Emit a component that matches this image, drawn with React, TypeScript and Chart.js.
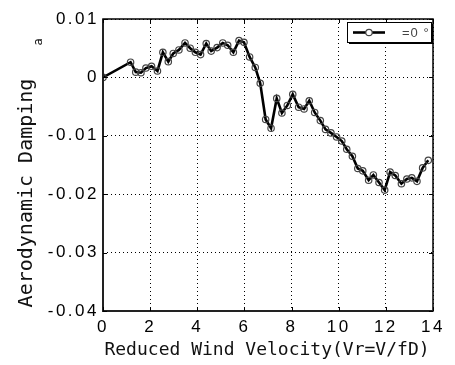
import React, { useEffect, useRef } from "react";
import { Chart, registerables } from "chart.js";

Chart.register(...registerables);

const vr = [0, 1.17, 1.39, 1.61, 1.82, 2.06, 2.31, 2.54, 2.77, 2.98, 3.22, 3.48, 3.70, 3.92, 4.14, 4.38, 4.59, 4.84, 5.08, 5.29, 5.53, 5.77, 5.98, 6.22, 6.46, 6.67, 6.90, 7.13, 7.37, 7.59, 7.82, 8.05, 8.30, 8.53, 8.75, 8.98, 9.22, 9.44, 9.67, 9.91, 10.13, 10.34, 10.58, 10.81, 11.02, 11.27, 11.47, 11.71, 11.95, 12.18, 12.40, 12.66, 12.89, 13.10, 13.32, 13.56, 13.80];
const damping = [0, 0.0026, 0.0009, 0.0008, 0.0016, 0.0019, 0.0011, 0.0043, 0.0027, 0.0041, 0.0047, 0.0059, 0.0050, 0.0043, 0.0039, 0.0058, 0.0045, 0.0051, 0.0059, 0.0055, 0.0043, 0.0063, 0.0060, 0.0035, 0.0017, -0.0010, -0.0072, -0.0087, -0.0036, -0.0061, -0.0048, -0.0029, -0.0051, -0.0054, -0.0040, -0.0060, -0.0074, -0.0089, -0.0095, -0.0102, -0.0109, -0.0123, -0.0135, -0.0156, -0.0160, -0.0176, -0.0167, -0.0180, -0.0193, -0.0162, -0.0168, -0.0182, -0.0174, -0.0172, -0.0178, -0.0155, -0.0142];
const seriesLabel = "=0 °";
const xTitle = "Reduced Wind Velocity(Vr=V/fD)";
const yTitle = "Aerodynamic Damping";
const ySub = "a";

const TICK_SPACING = "2.5px";

const decorPlugin = {
  id: "decor",
  beforeLayout(chart: any) {
    chart.ctx.letterSpacing = TICK_SPACING;
  },
  beforeDraw(chart: any) {
    const ctx = chart.ctx;
    ctx.letterSpacing = TICK_SPACING;
    ctx.save();
    ctx.fillStyle = "#fff";
    ctx.fillRect(0, 0, chart.width, chart.height);
    ctx.restore();
  },
  afterDraw(chart: any) {
    const ctx = chart.ctx;
    const { left, right, top, bottom } = chart.chartArea;
    const xs = chart.scales.x;
    const ys = chart.scales.y;
    ctx.save();
    ctx.letterSpacing = "0px";
    // frame
    ctx.strokeStyle = "#000";
    ctx.lineWidth = 1.5;
    ctx.strokeRect(left, top, right - left, bottom - top);
    ctx.lineWidth = 2;
    ctx.strokeStyle = "#222";
    ctx.beginPath();
    ctx.moveTo(left, top);
    ctx.lineTo(left, bottom);
    ctx.lineTo(right, bottom);
    ctx.stroke();
    // inward ticks
    ctx.lineWidth = 1;
    ctx.strokeStyle = "#000";
    ctx.beginPath();
    xs.ticks.forEach((t: any) => {
      const px = Math.round(xs.getPixelForValue(t.value)) + 0.5;
      ctx.moveTo(px, bottom);
      ctx.lineTo(px, bottom - 4);
      ctx.moveTo(px, top);
      ctx.lineTo(px, top + 4);
    });
    ys.ticks.forEach((t: any) => {
      const py = Math.round(ys.getPixelForValue(t.value)) + 0.5;
      ctx.moveTo(left, py);
      ctx.lineTo(left + 4, py);
      ctx.moveTo(right, py);
      ctx.lineTo(right - 4, py);
    });
    ctx.stroke();

    // axis titles
    ctx.fillStyle = "#111";
    ctx.font = "18px 'DejaVu Sans Mono'";
    ctx.textAlign = "center";
    ctx.textBaseline = "middle";
    ctx.fillText(xTitle, (left + right) / 2 - 1, 350);
    ctx.save();
    ctx.translate(27, 193);
    ctx.rotate(-Math.PI / 2);
    ctx.font = "20px 'DejaVu Sans Mono'";
    ctx.fillText(yTitle, 0, 0);
    ctx.restore();
    ctx.save();
    ctx.translate(39, 42);
    ctx.rotate(-Math.PI / 2);
    ctx.font = "12px 'DejaVu Sans Mono'";
    ctx.fillText(ySub, 0, 0);
    ctx.restore();

    // legend
    const bx = 347, by = 22, bw = 84, bh = 20;
    ctx.fillStyle = "#000";
    ctx.fillRect(bx + 2, by + 2, bw, bh);
    ctx.fillStyle = "#fff";
    ctx.fillRect(bx, by, bw, bh);
    ctx.strokeStyle = "#000";
    ctx.lineWidth = 1;
    ctx.strokeRect(bx + 0.5, by + 0.5, bw, bh);
    const ds = chart.data.datasets[0];
    ctx.strokeStyle = ds.borderColor;
    ctx.lineWidth = ds.borderWidth;
    ctx.beginPath();
    ctx.moveTo(bx + 6, by + 10.5);
    ctx.lineTo(bx + 38, by + 10.5);
    ctx.stroke();
    ctx.lineWidth = 1.2;
    ctx.strokeStyle = ds.pointBorderColor;
    ctx.beginPath();
    ctx.arc(bx + 22, by + 10.5, ds.pointRadius, 0, Math.PI * 2);
    ctx.fillStyle = "#fff";
    ctx.fill();
    ctx.stroke();
    ctx.fillStyle = "#444";
    ctx.font = "13px 'Liberation Sans'";
    ctx.letterSpacing = "1px";
    ctx.textAlign = "left";
    ctx.fillText(ds.label, bx + 55, by + 11);
    ctx.restore();
  },
};

export default function App() {
  const ref = useRef<HTMLCanvasElement | null>(null);
  useEffect(() => {
    if (!ref.current) return;
    const chart = new Chart(ref.current, {
      type: "line",
      data: {
        datasets: [
          {
            label: seriesLabel,
            data: vr.map((x, i) => ({ x, y: damping[i] })),
            borderColor: "#000",
            borderWidth: 2.6,
            pointRadius: 3.2,
            pointBorderColor: "#444",
            pointBackgroundColor: "rgba(0,0,0,0)",
            pointBorderWidth: 1.2,
            tension: 0,
          } as any,
        ],
      },
      options: {
        animation: false,
        responsive: true,
        maintainAspectRatio: false,
        layout: { padding: { top: 19, right: 22, left: 0, bottom: 0 } },
        plugins: { legend: { display: false }, tooltip: { enabled: false } },
        scales: {
          x: {
            type: "linear",
            min: 0,
            max: 14,
            afterFit: (s: any) => {
              s.height = 54;
            },
            ticks: {
              stepSize: 2,
              color: "#000",
              padding: 6,
              font: { family: "'Liberation Sans'", size: 17 },
            },
            grid: {
              color: "#000",
              lineWidth: 1,
              drawTicks: false,
            },
            border: { display: false, dash: [1, 3] },
          },
          y: {
            type: "linear",
            min: -0.04,
            max: 0.01,
            afterFit: (s: any) => {
              s.width = 103;
            },
            ticks: {
              stepSize: 0.01,
              color: "#000",
              padding: 4,
              font: { family: "'Liberation Sans'", size: 17 },
              callback: (v: any) => {
                const r = Math.round(Number(v) * 100) / 100;
                return r === 0 ? "0" : r.toFixed(2);
              },
            },
            grid: { color: "#000", lineWidth: 1, drawTicks: false },
            border: { display: false, dash: [1, 3] },
          },
        },
      } as any,
      plugins: [decorPlugin],
    });
    return () => chart.destroy();
  }, []);
  return (
    <div style={{ position: "fixed", left: 0, top: 0, width: 455, height: 365, background: "#fff" }}>
      <canvas ref={ref} />
    </div>
  );
}
